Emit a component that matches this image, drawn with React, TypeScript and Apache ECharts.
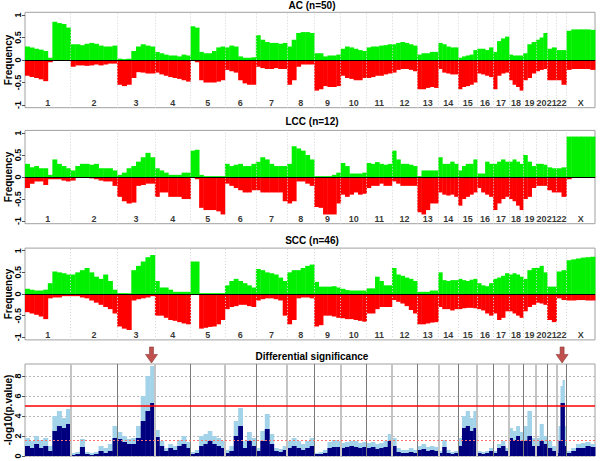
import React, { useEffect, useRef } from "react";
import * as echarts from "echarts";

const FONT = "'Liberation Sans', Arial, sans-serif";

const chromNames = ["1","2","3","4","5","6","7","8","9","10","11","12","13","14","15","16","17","18","19","20","21","22","X"];
const chromSizes = [243, 248, 201, 190, 183, 165, 167, 144, 141, 138, 135, 135, 112, 106, 101, 85, 85, 75, 68, 60, 50, 53, 152];

const panelTitles = ["AC (n=50)", "LCC (n=12)", "SCC (n=46)"];
const sigTitle = "Differential significance";
const freqTicks = [-1, -0.5, 0, 0.5, 1];

const acGain = [
  [0.3,0.28,0.25,0.23,0.2,0.05,0.85,0.82,0.8,0.72],
  [0.35,0.35,0.33,0.36,0.38,0.36,0.32,0.3,0.3,0.32],
  [0.03,0.02,0.03,0.2,0.3,0.35,0.32,0.3],
  [0.18,0.15,0.12,0.1,0.1,0.08,0.12,0.1],
  [0.75,0.72,0.18,0.15,0.15,0.2,0.28,0.3],
  [0.28,0.32,0.3,0.08,0.05,0.05,0.06],
  [0.55,0.45,0.4,0.38,0.38,0.36,0.38],
  [0.3,0.45,0.6,0.62,0.62,0.6],
  [0.15,0.15,0.08,0.1,0.1,0.12],
  [0.25,0.3,0.28,0.25,0.22,0.2],
  [0.28,0.3,0.3,0.32,0.33,0.35],
  [0.35,0.38,0.4,0.38,0.35,0.32],
  [0.12,0.15,0.15,0.18,0.18],
  [0.38,0.35,0.3,0.28,0.28],
  [0.05,0.08,0.1,0.12,0.22],
  [0.25,0.25,0.22,0.28],
  [0.18,0.42,0.48,0.52],
  [0.12,0.1,0.1,0.1],
  [0.15,0.35,0.4],
  [0.45,0.5,0.6],
  [0.25,0.28],
  [0.22,0.22],
  [0.65,0.68,0.68,0.68,0.68,0.67],
];
const acLoss = [
  [-0.35,-0.38,-0.4,-0.43,-0.47,-0.05,-0.02,-0.02,-0.02,-0.02],
  [-0.15,-0.12,-0.12,-0.13,-0.12,-0.1,-0.12,-0.1,-0.08,-0.08],
  [-0.55,-0.58,-0.55,-0.4,-0.27,-0.28,-0.3,-0.3],
  [-0.28,-0.32,-0.35,-0.38,-0.4,-0.42,-0.45,-0.48],
  [-0.02,-0.05,-0.45,-0.5,-0.5,-0.5,-0.48,-0.45],
  [-0.22,-0.25,-0.28,-0.45,-0.52,-0.55,-0.55],
  [-0.15,-0.18,-0.2,-0.2,-0.18,-0.2,-0.2],
  [-0.55,-0.45,-0.15,-0.1,-0.1,-0.1],
  [-0.68,-0.65,-0.58,-0.6,-0.6,-0.58],
  [-0.35,-0.4,-0.42,-0.45,-0.45,-0.4],
  [-0.4,-0.38,-0.35,-0.35,-0.32,-0.3],
  [-0.28,-0.22,-0.2,-0.2,-0.22,-0.25],
  [-0.65,-0.65,-0.62,-0.6,-0.62],
  [-0.2,-0.28,-0.3,-0.32,-0.32],
  [-0.65,-0.6,-0.58,-0.55,-0.5],
  [-0.3,-0.32,-0.35,-0.38],
  [-0.65,-0.35,-0.3,-0.28],
  [-0.45,-0.55,-0.6,-0.68],
  [-0.45,-0.4,-0.3],
  [-0.25,-0.22,-0.2],
  [-0.45,-0.45],
  [-0.45,-0.55],
  [-0.22,-0.2,-0.2,-0.2,-0.2,-0.22],
];

const lccGain = [
  [0.3,0.22,0.25,0.2,0.2,0.05,0.4,0.3,0.25,0.2],
  [0.15,0.25,0.3,0.3,0.28,0.3,0.2,0.2,0.2,0.15],
  [0.05,0.1,0.2,0.25,0.35,0.45,0.55,0.45],
  [0.2,0.15,0.1,0.05,0.05,0.05,0.1,0.1],
  [0.6,0.62,0.05,0.02,0.02,0.02,0.02,0.02],
  [0.3,0.25,0.28,0.3,0.25,0.25,0.3],
  [0.35,0.45,0.4,0.3,0.25,0.25,0.25],
  [0.3,0.7,0.65,0.6,0.5,0.4],
  [0.02,0.02,0.02,0.02,0.05,0.1],
  [0.32,0.25,0.08,0.08,0.08,0.1],
  [0.32,0.3,0.34,0.3,0.28,0.3],
  [0.6,0.4,0.3,0.3,0.28,0.25],
  [0.02,0.15,0.15,0.15,0.15],
  [0.45,0.3,0.3,0.35,0.3],
  [0.15,0.25,0.3,0.3,0.4],
  [0.08,0.08,0.35,0.3],
  [0.3,0.35,0.4,0.35],
  [0.35,0.4,0.35,0.3],
  [0.5,0.35,0.25],
  [0.3,0.3,0.28],
  [0.22,0.2],
  [0.2,0.22],
  [0.92,0.92,0.92,0.92,0.92,0.92],
];
const lccLoss = [
  [-0.25,-0.15,-0.1,-0.1,-0.18,-0.05,-0.05,-0.05,-0.08,-0.1],
  [-0.08,-0.02,-0.02,-0.02,-0.03,-0.05,-0.08,-0.1,-0.1,-0.2],
  [-0.45,-0.55,-0.6,-0.58,-0.2,-0.18,-0.15,-0.15],
  [-0.45,-0.35,-0.35,-0.45,-0.45,-0.45,-0.5,-0.5],
  [-0.02,-0.05,-0.7,-0.75,-0.75,-0.75,-0.78,-0.85],
  [-0.15,-0.2,-0.25,-0.3,-0.35,-0.35,-0.3],
  [-0.3,-0.35,-0.35,-0.35,-0.35,-0.35,-0.55],
  [-0.6,-0.55,-0.1,-0.1,-0.15,-0.2],
  [-0.68,-0.7,-0.85,-0.85,-0.85,-0.6],
  [-0.4,-0.45,-0.4,-0.35,-0.4,-0.38],
  [-0.25,-0.2,-0.2,-0.15,-0.2,-0.2],
  [-0.1,-0.15,-0.2,-0.2,-0.2,-0.2],
  [-0.8,-0.85,-0.75,-0.6,-0.6],
  [-0.35,-0.4,-0.42,-0.4,-0.45],
  [-0.65,-0.5,-0.45,-0.4,-0.35],
  [-0.25,-0.35,-0.4,-0.45],
  [-0.75,-0.6,-0.5,-0.45],
  [-0.5,-0.55,-0.65,-0.75],
  [-0.5,-0.45,-0.25],
  [-0.2,-0.2,-0.2],
  [-0.3,-0.35],
  [-0.35,-0.45],
  [-0.05,-0.02,-0.02,-0.02,-0.02,-0.02],
];

const sccGain = [
  [0.12,0.1,0.08,0.08,0.1,0.25,0.52,0.5,0.48,0.45],
  [0.45,0.5,0.55,0.6,0.5,0.4,0.35,0.45,0.3,0.1],
  [0.02,0.02,0.02,0.55,0.65,0.75,0.85,0.9],
  [0.3,0.15,0.15,0.1,0.05,0.05,0.05,0.05],
  [0.75,0.75,0.02,0.02,0.02,0.02,0.02,0.02],
  [0.2,0.3,0.35,0.3,0.25,0.2,0.15],
  [0.58,0.55,0.5,0.48,0.45,0.38,0.3],
  [0.5,0.55,0.55,0.6,0.65,0.68],
  [0.28,0.17,0.17,0.17,0.18,0.15],
  [0.12,0.09,0.08,0.08,0.08,0.08],
  [0.13,0.13,0.4,0.3,0.2,0.2],
  [0.6,0.45,0.42,0.38,0.35,0.3],
  [0.05,0.05,0.05,0.08,0.08],
  [0.5,0.32,0.3,0.32,0.32],
  [0.35,0.32,0.3,0.33,0.35],
  [0.25,0.2,0.18,0.25],
  [0.35,0.38,0.42,0.48],
  [0.45,0.48,0.45,0.4],
  [0.35,0.55,0.6],
  [0.6,0.65,0.5],
  [0.17,0.17],
  [0.52,0.55],
  [0.78,0.8,0.82,0.84,0.85,0.86],
];
const sccLoss = [
  [-0.42,-0.45,-0.48,-0.52,-0.58,-0.1,-0.08,-0.08,-0.05,-0.05],
  [-0.05,-0.05,-0.08,-0.1,-0.15,-0.2,-0.25,-0.3,-0.35,-0.45],
  [-0.75,-0.8,-0.83,-0.15,-0.12,-0.1,-0.08,-0.05],
  [-0.5,-0.5,-0.55,-0.6,-0.62,-0.65,-0.68,-0.7],
  [-0.02,-0.02,-0.8,-0.78,-0.76,-0.75,-0.7,-0.6],
  [-0.35,-0.3,-0.28,-0.25,-0.25,-0.28,-0.3],
  [-0.15,-0.12,-0.1,-0.1,-0.12,-0.15,-0.5],
  [-0.7,-0.6,-0.1,-0.08,-0.08,-0.1],
  [-0.75,-0.72,-0.5,-0.5,-0.52,-0.55],
  [-0.56,-0.58,-0.58,-0.6,-0.62,-0.64],
  [-0.45,-0.45,-0.35,-0.3,-0.3,-0.3],
  [-0.14,-0.18,-0.22,-0.28,-0.37,-0.45],
  [-0.7,-0.7,-0.68,-0.66,-0.65],
  [-0.3,-0.35,-0.35,-0.38,-0.35],
  [-0.35,-0.33,-0.32,-0.32,-0.33],
  [-0.35,-0.38,-0.45,-0.5],
  [-0.45,-0.6,-0.55,-0.4],
  [-0.4,-0.45,-0.5,-0.55],
  [-0.4,-0.3,-0.25],
  [-0.2,-0.22,-0.25],
  [-0.6,-0.65],
  [-0.1,-0.14],
  [-0.15,-0.15,-0.14,-0.14,-0.15,-0.15],
];

const sigUpper = [
  [1.8,1.5,2.0,1.6,1.8,1.0,4.0,4.5,3.8,4.7],
  [0.3,0.4,1.7,0.4,0.3,0.4,1.0,0.8,1.2,3.0],
  [2.4,2.0,1.7,1.8,3.0,6.0,8.0,9.0],
  [2.6,1.5,0.8,1.2,1.0,1.6,2.0,1.4],
  [0.4,0.6,2.0,2.2,2.5,2.0,1.8,1.5],
  [0.6,1.0,3.5,4.8,1.5,2.4,1.8],
  [0.8,2.5,4.2,2.2,0.8,0.7,1.0],
  [1.5,1.8,1.5,1.2,1.5,1.8],
  [0.3,0.4,0.6,1.4,1.6,1.5],
  [1.3,1.4,1.5,1.5,1.3,1.4],
  [1.3,1.4,1.2,1.3,1.5,2.2],
  [1.8,0.8,0.6,0.6,0.8,0.6],
  [1.0,1.2,0.9,1.0,0.9],
  [0.5,1.6,0.6,0.4,0.5],
  [1.8,4.0,4.5,3.8,4.5],
  [0.5,0.4,0.5,0.8],
  [0.5,1.2,1.5,0.8],
  [2.8,2.5,3.0,2.4],
  [3.0,4.5,1.8],
  [1.8,3.2,2.0],
  [1.5,1.0],
  [0.6,3.0,7.0,7.6,3.0],
  [0.5,0.8,1.2,1.3,1.4,1.2],
];
const sigLower = [
  [1.0,0.8,1.2,0.8,1.0,0.5,2.5,3.0,2.8,3.2],
  [0.1,0.2,0.9,0.2,0.1,0.2,0.5,0.3,0.5,1.8],
  [1.7,1.4,1.2,1.2,1.8,3.5,4.5,5.3],
  [1.9,1.0,0.5,0.8,0.6,1.0,1.2,0.8],
  [0.2,0.3,1.0,1.2,1.5,1.2,1.0,0.8],
  [0.3,0.5,2.0,3.0,0.8,1.5,1.0],
  [0.5,1.5,2.7,1.2,0.5,0.4,0.6],
  [0.8,1.0,0.8,0.6,0.8,1.0],
  [0.2,0.2,0.3,0.8,0.9,0.9],
  [0.8,0.9,1.0,0.9,0.8,0.9],
  [0.8,0.9,0.7,0.8,0.9,1.5],
  [1.0,0.4,0.3,0.3,0.4,0.3],
  [0.6,0.7,0.5,0.6,0.5],
  [0.3,0.9,0.3,0.2,0.3],
  [1.0,2.8,3.0,2.5,2.8],
  [0.3,0.2,0.3,0.5],
  [0.3,0.8,1.0,0.5],
  [1.8,1.6,2.0,1.5],
  [1.5,2.0,1.0],
  [1.0,1.5,1.2],
  [0.8,0.5],
  [0.3,1.5,5.3,5.3,1.0],
  [0.3,0.5,0.8,0.8,1.0,0.9],
];
const sigTicks = [0, 2, 4, 6, 8];
const sigThreshold = 5;
const sigSuggestive = 1.6;
const arrowMarks = [{ chrom: 3, frac: 0.91 }, { chrom: 22, frac: 0.56 }];

const starts: number[] = [];
let acc = 0;
chromSizes.forEach((s) => { starts.push(acc); acc += s; });
const total = acc;
const boundaries = starts.slice(1);

function toBins(vals: number[][]) {
  const out: number[][] = [];
  vals.forEach((arr, c) => {
    const w = chromSizes[c] / arr.length;
    arr.forEach((v, i) => out.push([starts[c] + i * w, starts[c] + (i + 1) * w, v]));
  });
  return out;
}

const rectItem = (color: string) => (_p: any, api: any) => {
  const a = api.coord([api.value(0), api.value(2)]);
  const b = api.coord([api.value(1), 0]);
  return {
    type: "rect",
    shape: { x: a[0], y: Math.min(a[1], b[1]), width: b[0] - a[0] + 0.4, height: Math.abs(b[1] - a[1]) },
    style: { fill: color },
  };
};

const GREEN = "#00f000";
const RED = "#ff0000";
const NAVY = "#00007f";
const LIGHT = "#a3d3e9";

const grids = [
  { top: 12.3, height: 95.4 },
  { top: 130.4, height: 93.3 },
  { top: 248.1, height: 91.8 },
  { top: 364, height: 92 },
].map((g) => ({
  ...g, left: 25, width: 570, show: true, borderColor: "#a0a0a0", borderWidth: 1,
  containLabel: false, outerBoundsMode: "none",
}));

const titleY = [5, 121.7, 240, 356];

const nameStyle = { fontWeight: "bold", fontSize: 10, color: "#000", fontFamily: FONT };

function buildOption() {
  const xAxis = grids.map((_, i) => ({
    type: "value", gridIndex: i, min: 0, max: total,
    axisLine: { show: false }, axisTick: { show: false }, axisLabel: { show: false }, splitLine: { show: false },
  }));
  const yAxis: any[] = [0, 1, 2].map((i) => ({
    type: "value", gridIndex: i, min: -1.06, max: 1.06,
    name: "Frequency", nameLocation: "middle", nameGap: 12, nameRotate: 90, nameMoveOverlap: false,
    nameTextStyle: nameStyle,
    axisLine: { show: false },
    axisTick: { show: true, customValues: freqTicks, length: 3, lineStyle: { color: "#555" } },
    axisLabel: { customValues: freqTicks, rotate: 90, fontSize: 9, fontWeight: "bold", color: "#000", margin: 3, fontFamily: FONT, formatter: (v: number) => String(v) },
    splitLine: { show: false },
  }));
  yAxis.push({
    type: "value", gridIndex: 3, min: 0, max: 9.2, interval: 0.5,
    name: "-log10(p.value)", nameLocation: "middle", nameGap: 12, nameRotate: 90, nameMoveOverlap: false,
    nameTextStyle: nameStyle,
    axisLine: { show: false },
    axisTick: { show: true, customValues: sigTicks, length: 3, lineStyle: { color: "#555" } },
    axisLabel: { customValues: sigTicks, rotate: 90, fontSize: 9, fontWeight: "bold", color: "#000", margin: 3, fontFamily: FONT, formatter: (v: number) => String(v) },
    splitLine: { show: true, lineStyle: { color: "#b8b8b8", type: [2, 2], width: 1 } },
  });

  const series: any[] = [];
  const panels = [[acGain, acLoss], [lccGain, lccLoss], [sccGain, sccLoss]];
  panels.forEach(([gain, loss], i) => {
    series.push({
      type: "custom", xAxisIndex: i, yAxisIndex: i, data: toBins(gain), renderItem: rectItem(GREEN),
      encode: { x: [0, 1], y: 2 }, silent: true, z: 2,
      markLine: {
        symbol: ["none", "none"], silent: true, label: { show: false }, animation: false,
        data: boundaries.map((b) => ({ xAxis: b, lineStyle: { color: "#d4d4d4", type: [1, 2], width: 1 } })),
      },
    });
    series.push({
      type: "custom", xAxisIndex: i, yAxisIndex: i, data: toBins(loss), renderItem: rectItem(RED),
      encode: { x: [0, 1], y: 2 }, silent: true, z: 3,
      markLine: {
        symbol: ["none", "none"], silent: true, label: { show: false }, animation: false,
        data: [{ yAxis: 0, lineStyle: { color: "#000", type: "solid", width: 1 } }],
      },
    });
    series.push({
      type: "scatter", xAxisIndex: i, yAxisIndex: i, symbolSize: 1, itemStyle: { color: "rgba(0,0,0,0)" }, silent: true, z: 6,
      data: chromNames.map((n, c) => ({ name: n, value: [starts[c] + chromSizes[c] / 2, -0.95] })),
      label: { show: true, position: "inside", formatter: "{b}", fontSize: 9, fontWeight: "bold", color: "#000", fontFamily: FONT },
      labelLayout: { hideOverlap: false },
    });
  });

  series.push({
    type: "custom", xAxisIndex: 3, yAxisIndex: 3, data: toBins(sigUpper), renderItem: rectItem(LIGHT),
    encode: { x: [0, 1], y: 2 }, silent: true, z: 2,
  });
  series.push({
    type: "custom", xAxisIndex: 3, yAxisIndex: 3, data: toBins(sigLower), renderItem: rectItem(NAVY),
    encode: { x: [0, 1], y: 2 }, silent: true, z: 3,
    markLine: {
      symbol: ["none", "none"], silent: true, label: { show: false }, animation: false,
      data: [
        ...boundaries.map((b, k) => ({
          xAxis: b,
          lineStyle: k % 2 === 0 ? { color: "#c4c4c4", type: "solid", width: 2 } : { color: "#7a7a7a", type: "solid", width: 1 },
        })),
        { yAxis: sigSuggestive, lineStyle: { color: "#ff7070", type: [2, 2], width: 1 } },
        { yAxis: sigThreshold, lineStyle: { color: "#ff0000", type: "solid", width: 1.5 } },
      ],
    },
    markPoint: {
      silent: true, animation: false,
      symbol: "path://M4,0 L8,0 L8,7 L12,7 L6,15 L0,7 L4,7 Z",
      symbolSize: [12, 16], symbolOffset: [0, -9],
      itemStyle: { color: "#c0504d", borderColor: "#8c3a38", borderWidth: 0.6 },
      label: { show: false },
      data: arrowMarks.map((a) => ({ coord: [starts[a.chrom - 1] + chromSizes[a.chrom - 1] * a.frac, 9.2] })),
    },
  });

  const graphic = [...panelTitles, sigTitle].map((t, i) => ({
    type: "text", x: 312, y: titleY[i], silent: true,
    style: { text: t, textAlign: "center", textVerticalAlign: "middle", font: `bold 10px ${FONT}`, fill: "#000" },
  }));

  return {
    animation: false,
    textStyle: { fontFamily: FONT },
    grid: grids,
    xAxis, yAxis, series, graphic,
  };
}

export default function App() {
  const ref = useRef<HTMLDivElement>(null);
  useEffect(() => {
    const chart = echarts.init(ref.current!, null, { renderer: "svg" });
    chart.setOption(buildOption() as any);
    return () => chart.dispose();
  }, []);
  return <div ref={ref} style={{ position: "fixed", left: 0, top: 0, width: 600, height: 461, background: "#fff" }} />;
}
